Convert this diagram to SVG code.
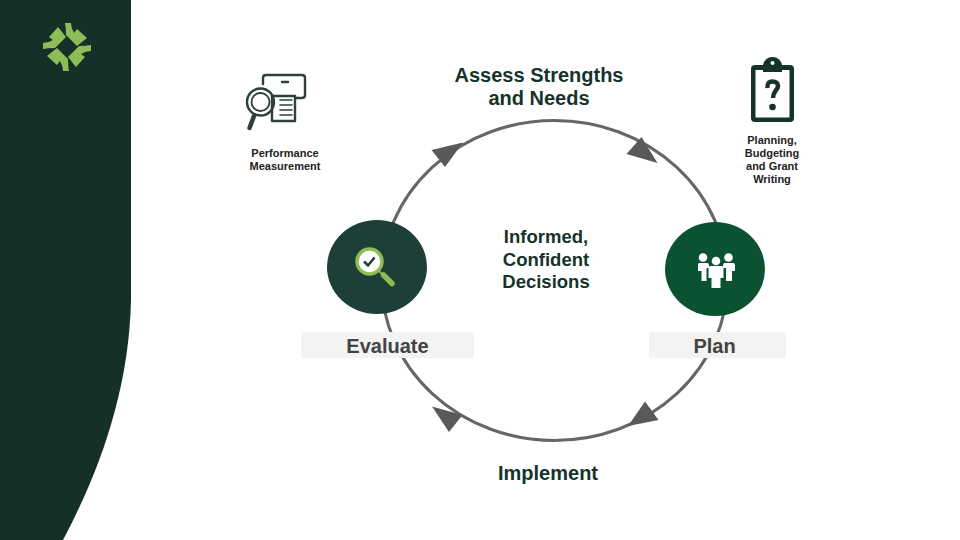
<svg xmlns="http://www.w3.org/2000/svg" width="960" height="540" viewBox="0 0 960 540">
<style>
text{font-family:"Liberation Sans",Arial,sans-serif;font-weight:700;text-anchor:middle}
.h{font-size:20px;fill:#15332b}
.m{font-size:18.500px;fill:#15332b}
.s{font-size:11px;fill:#222}
.l{font-size:20px;fill:#434343}
.ar{fill:#595959}
.ic{fill:none;stroke:#2f3f3a;stroke-width:2.400;stroke-linejoin:round;stroke-linecap:round}
</style>
<defs>
<path id="leaf" d="M65 23H71Q71 28 74 33L77 29L87 38L77 46L66 35Q66 28 65 23Z" fill="#8fbc57"/>
</defs>
<rect width="960" height="540" fill="#fff"/>
<path id="sidebar" d="M0 0H131V300C129 390 100 470 63 540H0Z" fill="#143029"/>
<g id="logo">
<use href="#leaf"/>
<use href="#leaf" transform="rotate(90 67 47)"/>
<use href="#leaf" transform="rotate(180 67 47)"/>
<use href="#leaf" transform="rotate(270 67 47)"/>
</g>
<g id="connectors">
<ellipse cx="554.500" cy="280.500" rx="173" ry="160" fill="none" stroke="#666" stroke-width="3"/>
<polygon class="ar" points="431.500,150 463,142.500 445,167"/>
<polygon class="ar" points="641.500,137 626.500,154 657.500,163"/>
<polygon class="ar" points="432,406.500 462.500,415 449,432"/>
<polygon class="ar" points="645,401.500 658.500,420 628,426"/>
</g>
<g id="node-assess"><text class="h" x="539" y="82">Assess Strengths</text><text class="h" x="539" y="105">and Needs</text></g>
<g id="node-center"><text class="m" x="546" y="243">Informed,</text><text class="m" x="546" y="265.500">Confident</text><text class="m" x="546" y="288">Decisions</text></g>
<g id="node-implement"><text class="h" x="548" y="480">Implement</text></g>
<g id="node-evaluate">
<rect x="301" y="332" width="173" height="26" rx="3" fill="#f3f3f3"/>
<ellipse cx="377" cy="267" rx="50" ry="47" fill="#1d3f37"/>
<circle cx="369.500" cy="261.500" r="12.500" fill="#fff" stroke="#8fbc57" stroke-width="3.500"/>
<path d="M364 261.500L368 265.500L374.500 257.500" fill="none" stroke="#1d3f37" stroke-width="2.500"/>
<path d="M378 270L383 275" stroke="#8fbc57" stroke-width="2"/>
<path d="M383.500 275L392 283.500" stroke="#8fbc57" stroke-width="5.500" stroke-linecap="round"/>
<text class="l" x="387.500" y="353">Evaluate</text>
</g>
<g id="node-plan">
<ellipse cx="715" cy="269" rx="50" ry="47" fill="#0b5232"/>
<rect x="649" y="332" width="137" height="26" rx="3" fill="#f3f3f3"/>
<g fill="#fff">
<circle cx="703" cy="257.500" r="4.300"/>
<circle cx="728.500" cy="257.500" r="4.300"/>
<circle cx="716" cy="261" r="4.300"/>
<path d="M699 263H707Q709 263 709 265V268H706.500V281H701.500V271H698V264Z"/>
<path d="M724 263H733Q735 263 735 265V271H732V281H726V268H723V265Z"/>
<path d="M711 266H721Q723.500 266 723.500 268V278H720.500V288H711.500V278H708.500V268Q708.500 266 711 266Z"/>
</g>
<text class="l" x="714.500" y="353">Plan</text>
</g>
<g id="node-performance">
<path class="ic" d="M266 75H302Q305 75 305 78V95Q305 98 302 98H296M266 75Q263 75 263 78V84"/>
<path class="ic" d="M282 82H288"/>
<path class="ic" d="M272 96H295V121H272Z"/>
<path class="ic" style="stroke-width:1.600" d="M280 100H292M280 105H292M280 110H292M280 115H292"/>
<circle class="ic" cx="260.500" cy="102" r="13.500" fill="#fff"/>
<circle class="ic" cx="260.500" cy="102" r="9" fill="#fff" style="stroke-width:1.800"/>
<path d="M254 116L249.500 128" fill="none" stroke="#2f3f3a" stroke-width="4.500" stroke-linecap="round"/>
<text class="s" x="285" y="157">Performance</text><text class="s" x="285" y="170">Measurement</text>
</g>
<g id="node-planning">
<path d="M755 65H763Q765 57 772.500 57Q780 57 782 65H790Q794 65 794 69V118Q794 122 790 122H755Q751 122 751 118V69Q751 65 755 65Z" fill="#15332b"/>
<rect x="755.500" y="70" width="34" height="47.500" fill="#fff"/>
<circle cx="772.500" cy="63" r="2" fill="#fff"/>
<path d="M763 66H782V72H763Z" fill="#15332b"/>
<path d="M767.500 88C767 83 769 81.500 772.500 81.500C776 81.500 778 83.500 778 86C778 90 773 91 773 98" fill="none" stroke="#15332b" stroke-width="4.500"/>
<circle cx="772.500" cy="107" r="3.300" fill="#15332b"/>
<text class="s" x="772" y="144">Planning,</text><text class="s" x="772" y="157">Budgeting</text><text class="s" x="772" y="170">and Grant</text><text class="s" x="772" y="183">Writing</text>
</g>
</svg>
